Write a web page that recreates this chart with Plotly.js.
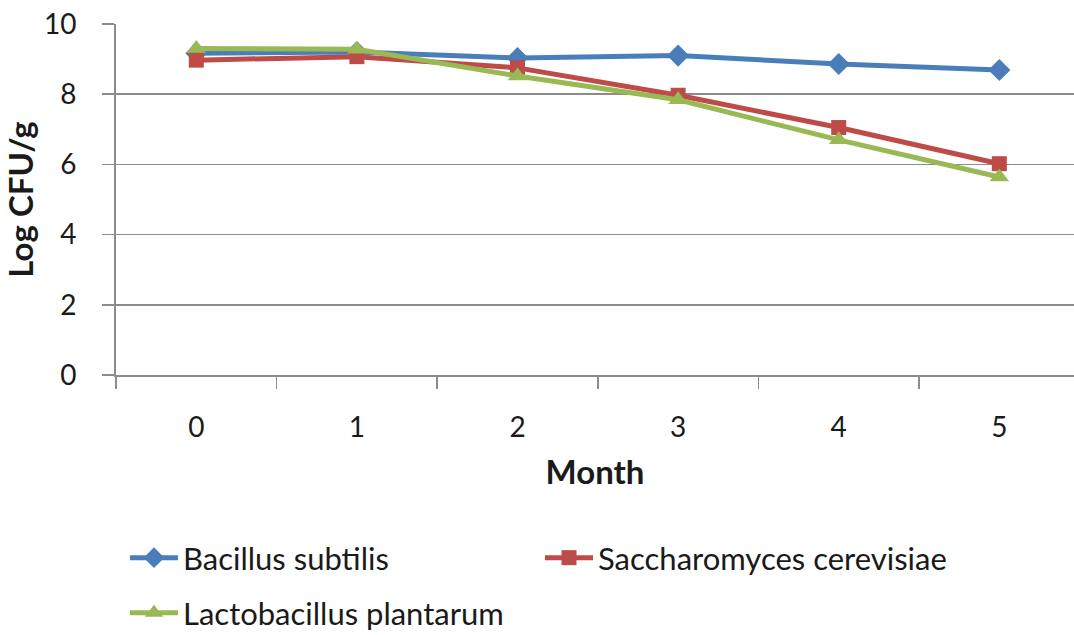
<!DOCTYPE html>
<html>
<head>
<meta charset="utf-8">
<script src="https://cdn.plot.ly/plotly-3.0.1.min.js"></script>
<style>
  html, body { margin: 0; padding: 0; background: #fff; }
  #chart { width: 1074px; height: 635px; }
</style>
</head>
<body>
<div id="chart"></div>
<script>
// Viability (log CFU/g) over storage time
const months = ["0", "1", "2", "3", "4", "5"];
const bacillusSubtilis = [9.17, 9.2, 9.03, 9.1, 8.86, 8.69];
const saccharomycesCerevisiae = [8.97, 9.07, 8.75, 7.97, 7.05, 6.02];
const lactobacillusPlantarum = [9.3, 9.28, 8.52, 7.84, 6.7, 5.64];

const FONT = "Lato, 'Liberation Sans', sans-serif";
const TEXT = "#1a1a1a";
const AXIS = "#8c8c8c";
const W = 1074, H = 635;

function series(name, y, color, symbol, size, legend) {
  return {
    type: "scatter",
    mode: "lines+markers",
    name: name,
    x: months,
    y: y,
    line: { color: color, width: 5 },
    marker: { color: color, symbol: symbol, size: size },
    legend: legend
  };
}

const data = [
  series("Bacillus subtilis", bacillusSubtilis, "#4a7ebb", "diamond", 17, "legend"),
  series("Saccharomyces cerevisiae", saccharomycesCerevisiae, "#be4b48", "square", 15, "legend"),
  series("Lactobacillus plantarum", lactobacillusPlantarum, "#98b954", "triangle-up", 17, "legend2")
];

const legendBase = {
  orientation: "h",
  xanchor: "left",
  yanchor: "middle",
  xref: "container",
  yref: "container",
  x: 125 / W,
  itemwidth: 48,
  entrywidth: 352,
  entrywidthmode: "pixels",
  font: { family: FONT, size: 31, color: TEXT },
  bgcolor: "rgba(0,0,0,0)",
  itemclick: false
};

const layout = {
  width: W,
  height: H,
  margin: { l: 116, r: 0, t: 24, b: 260, autoexpand: false },
  paper_bgcolor: "#ffffff",
  plot_bgcolor: "#ffffff",
  font: { family: FONT, size: 28, color: TEXT },
  showlegend: true,
  xaxis: {
    type: "category",
    range: [-0.5, 5.465],
    tickson: "boundaries",
    ticks: "outside",
    ticklen: 12,
    tickwidth: 1.5,
    tickcolor: AXIS,
    showgrid: false,
    showline: true,
    linecolor: AXIS,
    linewidth: 2,
    ticklabelstandoff: 26,
    tickfont: { family: FONT, size: 28, color: TEXT },
    title: { text: "<b>Month</b>", font: { family: FONT, size: 33, color: TEXT }, standoff: 19 },
    fixedrange: true
  },
  yaxis: {
    range: [0, 10],
    tickvals: [0, 2, 4, 6, 8, 10],
    ticks: "outside",
    ticklen: 12,
    tickwidth: 1.5,
    tickcolor: AXIS,
    showgrid: true,
    gridcolor: AXIS,
    gridwidth: 1.5,
    zeroline: false,
    showline: true,
    linecolor: AXIS,
    linewidth: 2,
    ticklabelstandoff: 20,
    tickfont: { family: FONT, size: 28, color: TEXT },
    title: { text: "<b>Log CFU/g</b>", font: { family: FONT, size: 33, color: TEXT }, standoff: 8 },
    fixedrange: true
  },
  // legend rows centred at 558 px and 613 px from the top
  legend: Object.assign({}, legendBase, { y: (H - 558) / H }),
  legend2: Object.assign({}, legendBase, { y: (H - 613) / H })
};

Plotly.newPlot("chart", data, layout, { displayModeBar: false, staticPlot: true });
</script>
</body>
</html>
